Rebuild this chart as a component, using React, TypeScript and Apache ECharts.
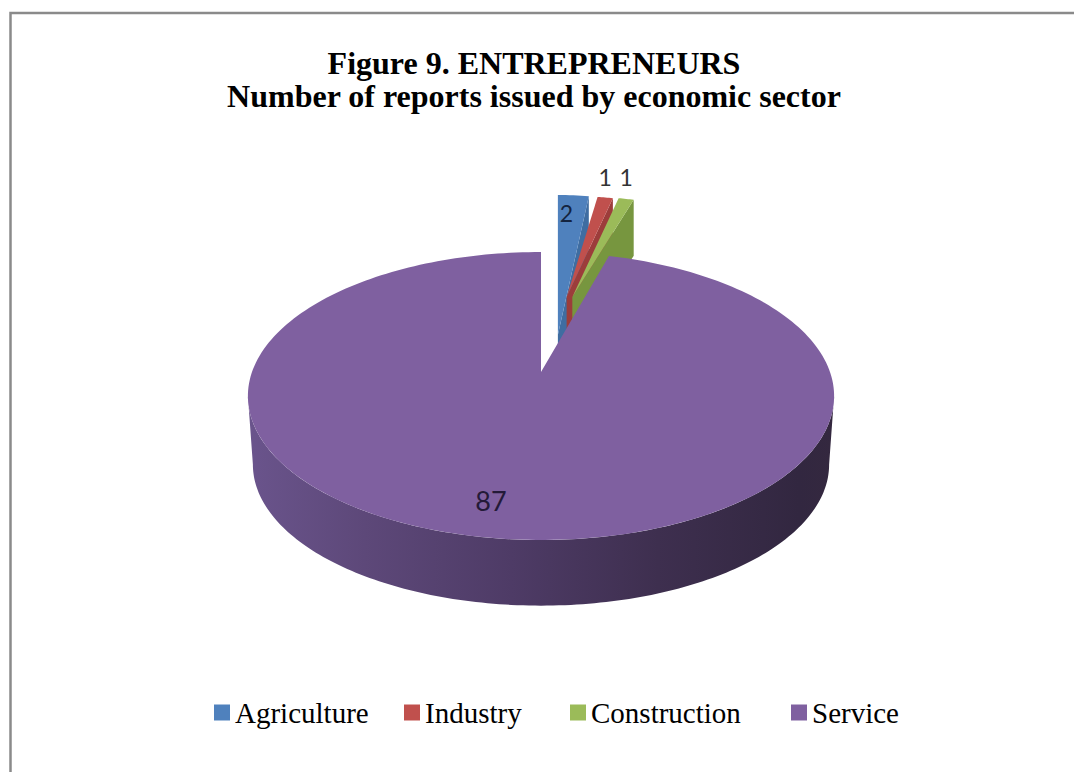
import React, { useEffect, useRef } from "react";
import * as echarts from "echarts";

const titleLines = ["Figure 9. ENTREPRENEURS", "Number of reports issued by economic sector"];
const categories = ["Agriculture", "Industry", "Construction", "Service"];
const values = [2, 1, 1, 87];
const colors = ["#4f81bd", "#c0504d", "#9bbb59", "#7f60a0"];
const cutColors = ["#3f6da1", "#9c3d3b", "#77963f", "#5d4678"];
const legendLefts = [214, 404, 570, 791];

const SERIF = "'Liberation Serif', 'Times New Roman', serif";
const LABEL_FONT = "'Lato', 'Open Sans', sans-serif";
const total = values.reduce((a, b) => a + b, 0);
const startAngle = (i: number) => (values.slice(0, i).reduce((a, b) => a + b, 0) / total) * Math.PI * 2;

// Service: projected disc
const CX = 541, CY = 372, PK = 1 / 6, PA = 140, PR = 289;
const project = (t: number) => {
  const u = Math.sin(t), v = Math.cos(t), w = 1 + PK * v;
  return [CX + (PR * u) / w, CY - (PA * v) / w];
};
const lower = (p: number[]) => [CX + (p[0] - CX) * 0.983, CY + (p[1] - CY) * 0.98 + 69];

function serviceGroup(value: number, index: number) {
  const a0 = startAngle(index);
  const a1 = a0 + (value / total) * Math.PI * 2;
  const top: number[][] = [[CX, CY]];
  for (let i = 0; i <= 240; i++) top.push(project(a0 + ((a1 - a0) * i) / 240));
  const tl = Math.acos(-PK);
  const tr = Math.PI * 2 - tl;
  const front: number[][] = [];
  const back: number[][] = [];
  for (let i = 0; i <= 160; i++) {
    const p = project(tl + ((tr - tl) * i) / 160);
    front.push(p);
    back.unshift(lower(p));
  }
  const sideFill = new echarts.graphic.LinearGradient(0, 0, 1, 0, [
    { offset: 0, color: "#6a548c" },
    { offset: 0.2, color: "#5d4879" },
    { offset: 0.45, color: "#4e3b66" },
    { offset: 0.7, color: "#3e2f4f" },
    { offset: 0.94, color: "#322740" },
    { offset: 1, color: "#34283f" },
  ]);
  return {
    type: "group",
    children: [
      { type: "polygon", shape: { points: front.concat(back) }, style: { fill: sideFill } },
      { type: "polygon", shape: { points: top }, style: { fill: colors[index] } },
      {
        type: "text",
        x: 491,
        y: 500,
        style: { text: String(value), fill: "#241a38", font: `27px ${LABEL_FONT}`, align: "center", verticalAlign: "middle" },
      },
    ],
  };
}

// Exploded small slices: apex shifted along the slice's mid angle
const smallApexY = [335, 297, 297];
const smallRadiusY = [140, 101, 101];

function smallGroup(value: number, index: number) {
  const a0 = startAngle(index);
  const a1 = a0 + (value / total) * Math.PI * 2;
  const mid = (a0 + a1) / 2;
  const ax = 552 + 85 * Math.sin(mid), ay = smallApexY[index], rx = 225, ry = smallRadiusY[index], h = 56;
  const pt = (t: number) => [ax + rx * Math.sin(t), ay - ry * Math.cos(t)];
  const top: number[][] = [[ax, ay]];
  for (let i = 0; i <= 8; i++) top.push(pt(a0 + ((a1 - a0) * i) / 8));
  const e = pt(a1);
  const labelAt = index === 0
    ? { x: (pt(a0)[0] + e[0]) / 2 - 7, y: 213, fill: "#14243f" }
    : { x: (pt(a0)[0] + e[0]) / 2, y: 176 + index * 0.7, fill: "#333333" };
  return {
    type: "group",
    children: [
      { type: "polygon", shape: { points: [[ax, ay], e, [e[0], e[1] + h], [ax, ay + h]] }, style: { fill: cutColors[index] } },
      { type: "polygon", shape: { points: top }, style: { fill: colors[index] } },
      {
        type: "text",
        x: labelAt.x,
        y: labelAt.y,
        style: { text: String(value), fill: labelAt.fill, font: `23px ${LABEL_FONT}`, align: "center", verticalAlign: "middle" },
      },
    ],
  };
}

export default function App() {
  const ref = useRef<HTMLDivElement>(null);
  useEffect(() => {
    const chart = echarts.init(ref.current!, undefined, { renderer: "svg" });
    chart.setOption({
      animation: false,
      backgroundColor: "#ffffff",
      graphic: [
        {
          type: "polyline",
          silent: true,
          z: -1,
          shape: { points: [[10.5, 772], [10.5, 13], [1074, 13]] },
          style: { fill: "none", stroke: "#8a8a8a", lineWidth: 2.5 },
        },
      ],
      title: {
        text: titleLines.join("\n"),
        left: 529,
        top: 41,
        textAlign: "center",
        textStyle: { fontFamily: SERIF, fontWeight: "bold", fontSize: 32, lineHeight: 33, color: "#000000" },
      },
      legend: categories.map((name, i) => ({
        data: [name],
        left: legendLefts[i],
        top: 698,
        padding: 0,
        icon: "rect",
        itemWidth: 16,
        itemHeight: 16,
        selectedMode: false,
        textStyle: { fontFamily: SERIF, fontSize: 29, color: "#000000" },
      })),
      series: categories.map((name, i) => ({
        type: "custom",
        name,
        coordinateSystem: "none",
        z: i === 3 ? 3 : 2,
        itemStyle: { color: colors[i] },
        data: [[values[i]]],
        renderItem: (_p: unknown, api: { value: (d: number) => number }) =>
          i === 3 ? serviceGroup(api.value(0), i) : smallGroup(api.value(0), i),
      })),
    });
    return () => chart.dispose();
  }, []);
  return <div ref={ref} style={{ position: "absolute", left: 0, top: 0, width: 1074, height: 772 }} />;
}
